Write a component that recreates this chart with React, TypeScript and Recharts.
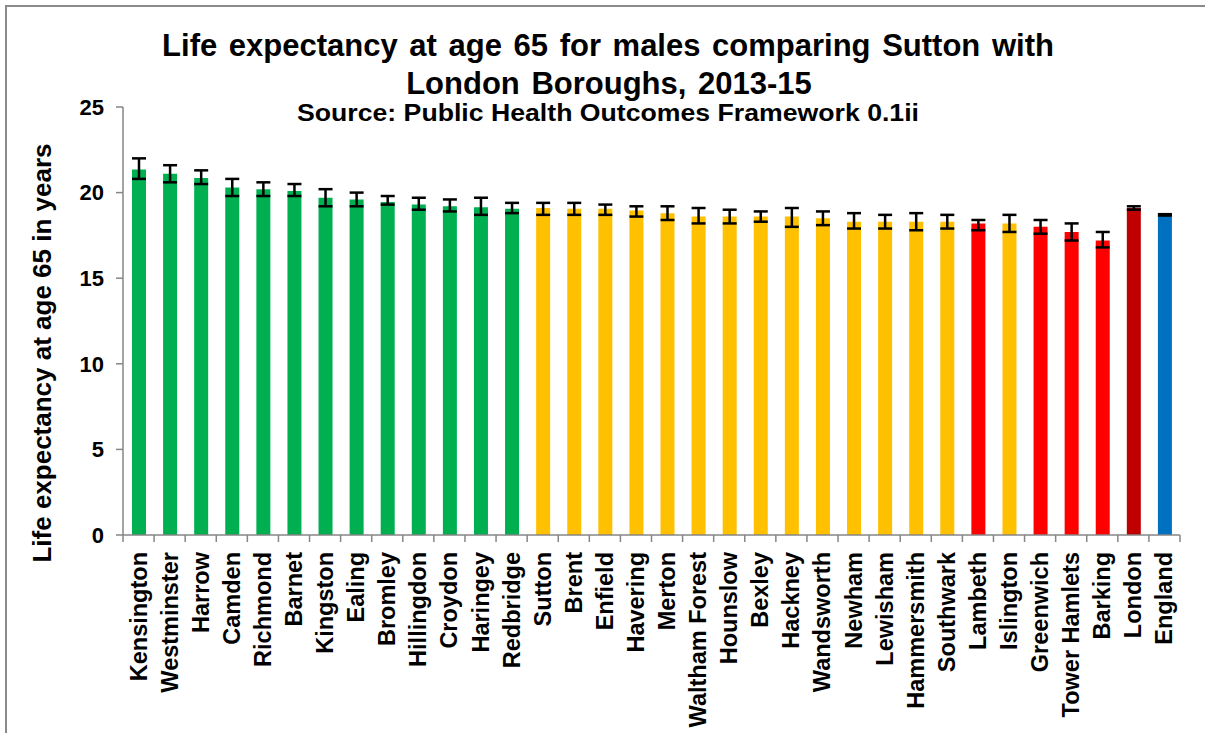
import React from 'react';
import { BarChart, Bar, XAxis, YAxis, ErrorBar, Cell } from 'recharts';

// Life expectancy at 65, males, 2013-15 (PHOF 0.1ii)
const boroughs = [
  'Kensington', 'Westminster', 'Harrow', 'Camden', 'Richmond', 'Barnet', 'Kingston',
  'Ealing', 'Bromley', 'Hillingdon', 'Croydon', 'Haringey', 'Redbridge', 'Sutton',
  'Brent', 'Enfield', 'Havering', 'Merton', 'Waltham Forest', 'Hounslow', 'Bexley',
  'Hackney', 'Wandsworth', 'Newham', 'Lewisham', 'Hammersmith', 'Southwark', 'Lambeth',
  'Islington', 'Greenwich', 'Tower Hamlets', 'Barking', 'London', 'England',
];

const lifeExpectancy = [
  21.35, 21.1, 20.85, 20.3, 20.2, 20.1, 19.7,
  19.6, 19.45, 19.3, 19.2, 19.15, 19.05, 19.1,
  19.05, 19.05, 18.95, 18.8, 18.6, 18.6, 18.6,
  18.6, 18.5, 18.3, 18.3, 18.3, 18.3, 18.2,
  18.2, 18.0, 17.7, 17.2, 19.1, 18.7,
];

const lowerCI = [
  20.8, 20.6, 20.5, 19.8, 19.8, 19.8, 19.2,
  19.2, 19.3, 19.0, 18.9, 18.7, 18.8, 18.7,
  18.7, 18.7, 18.6, 18.4, 18.2, 18.2, 18.3,
  18.0, 18.1, 17.9, 17.9, 17.8, 17.9, 17.8,
  17.7, 17.6, 17.2, 16.8, 19.0, 18.66,
];

const upperCI = [
  22.0, 21.6, 21.3, 20.8, 20.6, 20.5, 20.2,
  20.0, 19.8, 19.7, 19.6, 19.7, 19.4, 19.4,
  19.4, 19.3, 19.2, 19.2, 19.1, 19.0, 18.9,
  19.1, 18.9, 18.8, 18.7, 18.8, 18.7, 18.4,
  18.7, 18.4, 18.2, 17.7, 19.2, 18.74,
];

// significance vs England
const comparison = [
  'better', 'better', 'better', 'better', 'better', 'better', 'better',
  'better', 'better', 'better', 'better', 'better', 'better', 'similar',
  'similar', 'similar', 'similar', 'similar', 'similar', 'similar', 'similar',
  'similar', 'similar', 'similar', 'similar', 'similar', 'similar', 'worse',
  'similar', 'worse', 'worse', 'worse', 'london', 'england',
];

const yTicks = [0, 5, 10, 15, 20, 25];

const COLOURS: Record<string, string> = {
  better: '#00B050',
  similar: '#FFC000',
  worse: '#FF0000',
  london: '#C00000',
  england: '#0070C0',
};

const data = boroughs.map((name, i) => ({
  name,
  value: lifeExpectancy[i],
  err: [lifeExpectancy[i] - lowerCI[i], upperCI[i] - lifeExpectancy[i]],
  group: comparison[i],
}));

const W = 1205;
const H = 733;
const margin = { top: 107, right: 25, bottom: 8, left: 63 };
const Y_AXIS_W = 60;
const plotW = W - margin.left - margin.right - Y_AXIS_W;
const band = plotW / boroughs.length;
const FONT = '"Liberation Sans", Arial, sans-serif';
const AXIS_GREY = '#868686';

const CategoryTick = (props: any) => {
  const { x, y, payload, index } = props;
  const left = x - band / 2;
  return (
    <g>
      <line x1={left} y1={y - 8} x2={left} y2={y - 1} stroke={AXIS_GREY} strokeWidth={1.5} />
      {index === boroughs.length - 1 && (
        <line x1={x + band / 2} y1={y - 8} x2={x + band / 2} y2={y - 1} stroke={AXIS_GREY} strokeWidth={1.5} />
      )}
      <text
        transform={`translate(${x + 8},${y + 9}) rotate(-90)`}
        textAnchor="end"
        fontFamily={FONT}
        fontWeight="bold"
        fontSize={23.5}
        fill="#000"
      >
        {payload.value}
      </text>
    </g>
  );
};

export default function App() {
  return (
    <div style={{ position: 'absolute', left: 0, top: 0, width: W, height: H, background: '#fff', overflow: 'hidden' }}>
      <div
        style={{
          position: 'absolute',
          left: 5,
          top: 5,
          width: W,
          height: H,
          borderTop: '2px solid #8a8a8a',
          borderLeft: '2px solid #8a8a8a',
        }}
      />
      <BarChart width={W} height={H} data={data} margin={margin} barSize={14}>
        <XAxis
          dataKey="name"
          interval={0}
          height={190}
          axisLine={{ stroke: AXIS_GREY, strokeWidth: 1.5 }}
          tickLine={false}
          tick={<CategoryTick />}
        />
        <YAxis
          width={Y_AXIS_W}
          domain={[0, 25]}
          ticks={yTicks}
          interval={0}
          axisLine={{ stroke: AXIS_GREY, strokeWidth: 1.5 }}
          tickLine={{ stroke: AXIS_GREY, strokeWidth: 1.5 }}
          tickSize={7}
          tickMargin={12}
          tick={{ fontFamily: FONT, fontWeight: 'bold', fontSize: 22, fill: '#000' }}
        />
        <Bar dataKey="value" isAnimationActive={false}>
          {data.map((d) => (
            <Cell key={d.name} fill={COLOURS[d.group]} />
          ))}
          <ErrorBar dataKey="err" direction="y" width={7} strokeWidth={2.5} stroke="#000" />
        </Bar>
      </BarChart>
      <svg width={W} height={H} style={{ position: 'absolute', left: 0, top: 0, pointerEvents: 'none' }}>
        <g fontFamily={FONT} fontWeight="bold" fill="#000" textAnchor="middle">
          <text x={608} y={56} fontSize={31} wordSpacing={3}>
            Life expectancy at age 65 for males comparing Sutton with
          </text>
          <text x={609} y={94} fontSize={31} wordSpacing={3}>
            London Boroughs, 2013-15
          </text>
          <text x={608} y={121} fontSize={23} textLength={622} lengthAdjust="spacingAndGlyphs">
            Source: Public Health Outcomes Framework 0.1ii
          </text>
          <text transform="translate(51,353) rotate(-90)" fontSize={26}>
            Life expectancy at age 65 in years
          </text>
        </g>
      </svg>
    </div>
  );
}
